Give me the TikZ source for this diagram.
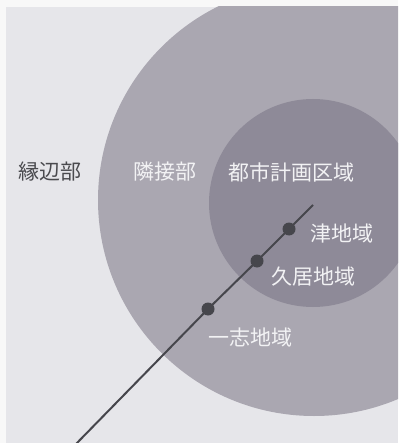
\documentclass[tikz,border=0pt]{standalone}
\usepackage{fontspec}
\newfontfamily\jpfont{Noto Sans CJK JP}
\definecolor{pagebg}{HTML}{F8F8F8}
\definecolor{panelbg}{HTML}{E6E6EA}
\definecolor{outerc}{HTML}{AAA7B1}
\definecolor{innerc}{HTML}{8E8A98}
\definecolor{linec}{HTML}{46464C}
\definecolor{darktext}{HTML}{4A4A4E}
\definecolor{lighttext}{HTML}{F2F2F4}
\tikzset{
  lbl/.style={font=\jpfont\fontsize{21}{21}\selectfont, inner sep=0pt, anchor=center},
  lightlbl/.style={lbl, text=lighttext},
  darklbl/.style={lbl, text=darktext},
  stopdot/.style={circle, fill=linec, minimum size=13pt, inner sep=0pt},
  railline/.style={draw=linec, line width=2pt}
}
\begin{document}
\begin{tikzpicture}[x=1pt,y=-1pt]
\useasboundingbox (0,0) rectangle (398,443);
\fill[pagebg] (0,0) rectangle (398,443);
\begin{scope}
\clip (6,7) rectangle (398,443);
\fill[panelbg] (6,7) rectangle (398,443);
\fill[outerc] (314,200) circle[radius=216];
\fill[innerc] (313,203) circle[radius=104];
\coordinate (lineend) at (75,445);
\coordinate (linetop) at (313,205);
\node[stopdot] (tsu) at (289,229) {};
\node[stopdot] (hisai) at (257,261) {};
\node[stopdot] (ichishi) at (208,309) {};
\draw[railline] (lineend) -- (ichishi.center) -- (hisai.center) -- (tsu.center) -- (linetop);
\end{scope}
\node[darklbl] (enpen) at (50,172) {縁辺部};
\node[lightlbl] (rinsetsu) at (165,172) {隣接部};
\node[lightlbl] (toshi) at (291,172) {都市計画区域};
\node[lightlbl] (tsul) at (342,234) {津地域};
\node[lightlbl] (hisail) at (313,277) {久居地域};
\node[lightlbl] (ichishil) at (250,338) {一志地域};
\end{tikzpicture}
\end{document}
